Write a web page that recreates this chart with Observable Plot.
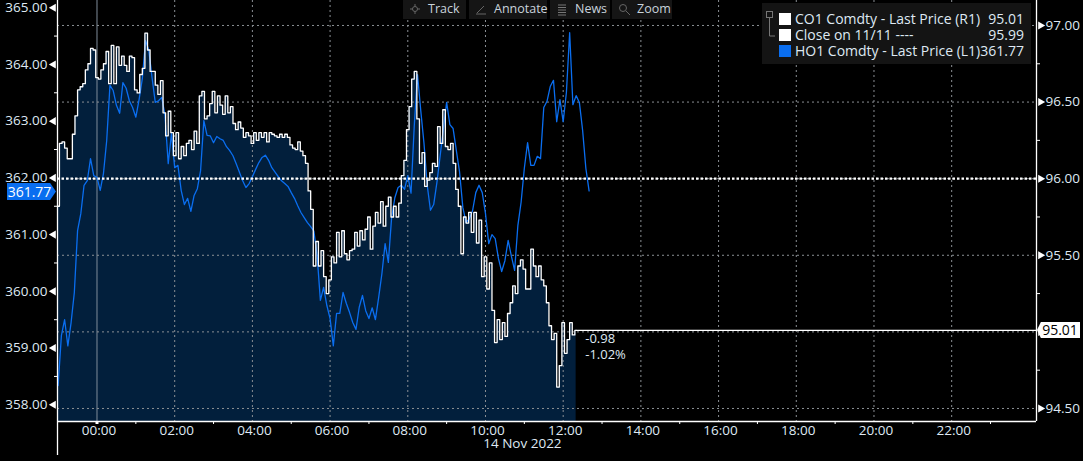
<!DOCTYPE html>
<html><head><meta charset="utf-8">
<script src="https://cdn.jsdelivr.net/npm/d3@7"></script>
<script src="https://cdn.jsdelivr.net/npm/@observablehq/plot@0.6"></script>
<style>
html,body{margin:0;padding:0;background:#000;overflow:hidden}
#wrap{position:relative;width:1083px;height:461px;font-family:"Open Sans",sans-serif;color:#dfe9f3}
#wrap svg.plot{position:absolute;left:0;top:0;display:block}
.bar{position:absolute;top:0;height:19px;background:#151515;font-size:12.5px;line-height:18px;color:#c9d3dc}
.bar span{position:absolute;left:25px}
.bar svg{position:absolute;left:6px;top:3px}
#legend{position:absolute;left:762px;top:3px;width:269px;height:61px;background:#141414;font-size:14px}
.row{position:absolute;left:33px;right:7px;height:16px;line-height:16px;white-space:pre}
.row b{font-weight:400;position:absolute;right:0;top:0}
.sw{position:absolute;left:17px;width:12px;height:12px}
.tag{position:absolute;font-size:14px;text-align:center}
</style></head><body><div id="wrap"></div>
<script>
// CO1 Comdty last price, one reading every 4 minutes from 23:00 (right axis)
const c01 = [95.82,96.23,96.24,96.20,96.13,96.13,96.29,96.41,96.58,96.60,96.62,96.71,96.75,96.85,96.84,96.66,96.65,96.71,96.75,96.83,
96.62,96.87,96.62,96.86,96.74,96.80,96.74,96.70,96.80,96.79,96.58,96.56,96.68,96.72,96.95,96.84,96.70,96.70,96.61,96.55,
96.64,96.43,96.28,96.44,96.30,96.15,96.30,96.13,96.21,96.15,96.23,96.25,96.19,96.31,96.23,96.54,96.57,96.39,96.41,96.49,
96.57,96.43,96.54,96.48,96.42,96.54,96.43,96.47,96.36,96.32,96.37,96.33,96.27,96.30,96.28,96.23,96.30,96.25,96.30,96.27,
96.30,96.24,96.30,96.29,96.28,96.27,96.29,96.27,96.29,96.27,96.22,96.20,96.19,96.24,96.18,96.15,96.10,95.92,95.80,95.43,
95.59,95.43,95.53,95.36,95.25,95.34,95.49,95.45,95.65,95.49,95.66,95.51,95.47,95.53,95.54,95.65,95.56,95.66,95.60,95.67,
95.75,95.54,95.69,95.78,95.71,95.85,95.69,95.82,95.88,95.75,95.82,95.75,95.84,96.02,96.12,96.32,96.47,96.65,96.70,96.39,
96.10,96.17,95.95,95.99,96.04,96.10,96.08,96.34,96.23,96.45,96.21,96.19,96.23,96.10,95.93,95.82,95.51,95.75,95.71,95.78,
95.65,95.78,95.58,95.73,95.36,95.49,95.28,95.45,95.14,94.93,95.08,94.95,95.06,94.97,95.12,95.19,95.30,95.25,95.43,95.47,
95.41,95.28,95.28,95.54,95.43,95.36,95.43,95.34,95.30,95.19,95.04,94.95,94.99,94.64,94.78,95.06,94.86,94.95,95.06,94.98,95.01];
// HO1 Comdty last price, one reading every 5 minutes from 23:00 (left axis)
const h01 = [358.34,359.22,359.50,359.04,359.45,359.98,361.07,361.37,361.87,361.95,362.34,362.04,362.01,361.78,362.08,362.66,363.63,363.54,363.28,363.14,
363.68,363.58,363.36,363.24,363.07,363.38,363.75,364.42,364.25,363.77,363.33,363.36,363.42,363.10,362.25,362.78,362.18,362.22,361.78,361.53,
361.64,361.41,361.69,361.81,362.13,363.01,362.75,362.74,362.62,362.73,362.69,362.66,362.55,362.48,362.39,362.25,362.10,361.95,361.83,361.90,
362.02,362.15,362.27,362.36,362.40,362.31,362.18,362.10,362.02,361.95,361.90,361.85,361.74,361.64,361.51,361.39,361.30,361.21,361.14,361.06,
360.63,359.84,360.07,359.75,359.52,359.04,359.61,359.61,359.98,359.79,359.63,359.45,359.33,359.72,359.93,359.66,359.52,359.71,359.50,359.89,
360.31,360.84,360.51,361.30,361.65,361.83,361.87,361.80,362.04,361.73,362.92,363.82,363.19,362.61,361.87,361.43,361.53,361.92,362.39,362.87,
363.33,362.94,362.87,362.48,362.10,361.48,361.21,361.28,361.42,361.74,361.87,361.74,361.37,360.84,361.00,360.93,360.58,360.35,360.54,360.90,
360.62,360.37,361.16,361.57,362.17,362.62,362.22,362.22,362.38,362.34,363.24,363.35,363.61,363.72,362.99,363.38,362.99,363.51,364.56,363.29,
363.45,363.33,362.84,362.17,361.77];
const closeValue = 95.99, closeLevel = 96, lastC01 = 95.01, lastH01 = 361.77;
const change = ["-0.98", "-1.02%"];
const leftTicks = [358,359,360,361,362,363,364,365];
const leftMinor = [358.5,359.5,360.5,361.5,362.5,363.5,364.5];
const rightTicks = [94.5,95,95.5,96,96.5,97];
const rightMinor = [94.75,95.25,95.75,96.25,96.75];
const hourLabels = ["00:00","02:00","04:00","06:00","08:00","10:00","12:00","14:00","16:00","18:00","20:00","22:00"];
const legendRows = [["CO1 Comdty - Last Price (R1)","95.01","#fff",9],["Close on 11/11 ----","95.99","#fff",25],["HO1 Comdty - Last Price (L1)","361.77","#0a6ef0",41]];
const tools = [["Track",403,63],["Annotate",469,78],["News",550,60],["Zoom",612,60]];

const white = c01.map((v,i)=>({t:-60+4*i,v}));
const blue = h01.map((v,i)=>({t:-60+5*i,v}));
const xMin=-61, xMax=1451;
const toRight = d3.scaleLinear([358,365],[94.524,97.116]);
const yBottom = 94.415, yTop = 97.163;
const hourTicks = hourLabels.map((_,i)=>i*120);
const oddTicks = d3.range(60,1440,120);
const tickCol = "#dfe9f3";
const dash = "2,3";
const lastT = white[white.length-1].t;
const blank = ()=>"";

const plot = Plot.plot({
  width:1083,height:461,marginLeft:57,marginRight:47,marginTop:0,marginBottom:40,
  style:{background:"transparent",fontFamily:"'Open Sans',sans-serif",fontSize:"13.5px",color:tickCol},
  x:{domain:[xMin,xMax],label:null},
  y:{domain:[yBottom,yTop],label:null},
  marks:[
    Plot.areaY(white,{x:"t",y1:yBottom,y2:"v",curve:"step",fill:"#021f3c"}),
    Plot.ruleX(hourTicks.filter(d=>d>0),{stroke:"#8a8f94",strokeDasharray:dash,strokeWidth:1}),
    Plot.ruleX([0],{stroke:"#7f8c9b",strokeWidth:1}),
    Plot.ruleY(rightTicks,{stroke:"#8a8f94",strokeDasharray:dash,strokeWidth:1}),
    Plot.line(blue,{x:"t",y:d=>toRight(d.v),stroke:"#0a6ef0",strokeWidth:1.3}),
    Plot.line(white,{x:"t",y:"v",curve:"step",stroke:"#fff",strokeWidth:1.3}),
    Plot.line([{t:lastT,v:lastC01},{t:xMax,v:lastC01}],{x:"t",y:"v",stroke:"#fff",strokeWidth:1.3}),
    Plot.ruleY([closeLevel],{stroke:"#fff",strokeWidth:2.2,strokeDasharray:"2.5,2"}),
    Plot.ruleX([xMin,xMax],{stroke:"#fff",strokeWidth:1.3}),
    Plot.ruleY([yBottom],{stroke:"#fff",strokeWidth:1.3}),
    Plot.axisY({anchor:"left",ticks:leftTicks.map(d=>toRight(d)),tickSize:0,tickPadding:10,tickFormat:d=>toRight.invert(d).toFixed(2),fill:tickCol,label:null}),
    Plot.axisY({anchor:"right",ticks:rightTicks,tickSize:0,tickPadding:9,tickFormat:d=>d.toFixed(2),fill:tickCol,label:null}),
    Plot.dot(leftTicks,{x:xMin,y:d=>toRight(d),symbol:"triangle",rotate:-90,r:3,dx:-4,fill:"#fff"}),
    Plot.dot(rightTicks,{x:xMax,y:d=>d,symbol:"triangle",rotate:90,r:3,dx:4,fill:"#fff"}),
    Plot.axisY({anchor:"left",ticks:leftMinor.map(d=>toRight(d)),tickSize:3,tickFormat:blank,stroke:"#fff",label:null}),
    Plot.axisY({anchor:"right",ticks:rightMinor,tickSize:3,tickFormat:blank,stroke:"#fff",label:null}),
    Plot.axisX({anchor:"bottom",ticks:hourTicks,tickSize:0,tickPadding:4,tickFormat:(d)=>hourLabels[d/120],fill:tickCol,dx:2,label:null}),
    Plot.axisX({anchor:"bottom",ticks:oddTicks,tickSize:3,tickFormat:blank,stroke:"#fff",label:null}),
    Plot.axisX({anchor:"bottom",ticks:[0],tickSize:3,tickFormat:blank,stroke:"#fff",strokeWidth:3,label:null}),
    Plot.axisX({anchor:"bottom",ticks:[xMin],tickSize:34,tickFormat:blank,stroke:"#fff",strokeWidth:1.3,label:null}),
    Plot.text(["14 Nov 2022"],{x:657,frameAnchor:"bottom",dy:26,fill:tickCol,fontSize:13.5}),
    Plot.text([{s:change[0],v:94.957},{s:change[1],v:94.85}],{x:754,y:"v",text:"s",textAnchor:"start",fill:tickCol,fontSize:13})
  ]
});
const wrap=document.getElementById("wrap");
wrap.appendChild(plot);

// toolbar
const icons={
 Track:'<path d="M6 1v10M1 6h10" stroke="#666" fill="none"/><circle cx="6" cy="6" r="2.5" stroke="#666" fill="#151515"/>',
 Annotate:'<path d="M1 11h10M2 10l7-7" stroke="#666" fill="none"/>',
 News:'<path d="M2 2h8M2 4.5h8M2 7h8M2 9.500h8M2 12h8" stroke="#777" fill="none"/>',
 Zoom:'<circle cx="5" cy="5" r="3.500" stroke="#666" fill="none"/><path d="M8 8l4 4" stroke="#666"/>'
};
tools.forEach(([n,x,w])=>{
  const d=document.createElement("div");d.className="bar";d.style.left=x+"px";d.style.width=w+"px";
  d.innerHTML=`<svg width="13" height="13">${icons[n]}</svg><span>${n}</span>`;wrap.appendChild(d);
});
// legend
const lg=document.createElement("div");lg.id="legend";
lg.innerHTML='<svg width="16" height="40" style="position:absolute;left:4px;top:8px"><rect x="0.500" y="0.500" width="6" height="6" fill="none" stroke="#777"/><path d="M3.500 7V25H9" fill="none" stroke="#777"/></svg>'+
 legendRows.map(r=>`<div class="sw" style="top:${r[3]+1}px;background:${r[2]}"></div><div class="row" style="top:${r[3]-1}px">${r[0]}<b>${r[1]}</b></div>`).join("");
wrap.appendChild(lg);
// value tags
const t1=document.createElement("div");t1.className="tag";t1.textContent=lastH01.toFixed(2);
t1.style.cssText+="left:7px;top:183px;width:49px;height:17px;line-height:17px;background:#0a6ef0;color:#fff;padding-right:4px;box-sizing:border-box;clip-path:polygon(0 0,88% 0,100% 50%,88% 100%,0 100%)";
wrap.appendChild(t1);
const t2=document.createElement("div");t2.className="tag";t2.textContent=lastC01.toFixed(2);
t2.style.cssText+="left:1037px;top:322px;width:43px;height:16px;line-height:16px;background:#fff;color:#000;padding-left:3px;box-sizing:border-box;clip-path:polygon(0 50%,9% 0,100% 0,100% 100%,9% 100%)";
wrap.appendChild(t2);
</script></body></html>
